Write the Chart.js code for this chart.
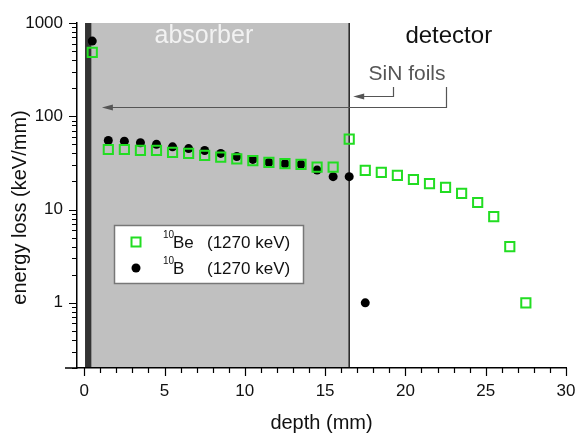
<!DOCTYPE html>
<html><head><meta charset="utf-8">
<script src="https://cdn.jsdelivr.net/npm/chart.js@4/dist/chart.umd.min.js"></script>
<style>html,body{margin:0;padding:0;background:#fff}canvas{display:block}</style>
</head><body>
<canvas id="c" width="577" height="436"></canvas>
<script>
// ---- data ----
const depthBe = [0.5,1.5,2.5,3.5,4.5,5.5,6.5,7.5,8.5,9.5,10.5,11.5,12.5,13.5,14.5,15.5,16.5,17.5,18.5,19.5,20.5,21.5,22.5,23.5,24.5,25.5,26.5,27.5];
const lossBe  = [485,44,44,43,43,41,40,38,36.5,35,33.5,32,31,30.5,28.5,28.5,57,26.3,25,23.2,21,19,17.3,14.9,11.9,8.4,4.0,1.0];
const depthB  = [0.5,1.5,2.5,3.5,4.5,5.5,6.5,7.5,8.5,9.5,10.5,11.5,12.5,13.5,14.5,15.5,16.5,17.5];
const lossB   = [640,55,54,52,50,47,45,43,40,37,34.5,32,31,30.5,26.5,22.5,22.5,1.0];
const xTickLabels = [0,5,10,15,20,25,30];
const yTickLabels = [1,10,100,1000];
const seriesMass = ['10','10'];
const seriesElement = ['Be','B'];
const seriesEnergy = ['(1270 keV)','(1270 keV)'];
const foilRange = [0.05,0.45];
const absorberRange = [0.45,16.5];
const xTitle = 'depth (mm)';
const yTitle = 'energy loss (keV/mm)';

const FONT = '"Liberation Sans", Arial, Helvetica, sans-serif';
const GREEN = '#22dd22';

function font(sz){ return sz + 'px ' + FONT; }

const deco = {
  id: 'deco',
  beforeDraw(chart){
    const {ctx, chartArea:a, scales:{x}} = chart;
    ctx.save();
    ctx.fillStyle = '#fff'; ctx.fillRect(0,0,chart.width,chart.height);
    const g0 = x.getPixelForValue(absorberRange[0]), g1 = x.getPixelForValue(absorberRange[1]);
    ctx.fillStyle = '#c0c0c0'; ctx.fillRect(g0, a.top, g1-g0, a.bottom-a.top);
    const f0 = x.getPixelForValue(foilRange[0]), f1 = x.getPixelForValue(foilRange[1]);
    ctx.fillStyle = '#333'; ctx.fillRect(f0, a.top, f1-f0, a.bottom-a.top);
    ctx.strokeStyle = '#222'; ctx.lineWidth = 1.5;
    ctx.beginPath(); ctx.moveTo(g1, a.top); ctx.lineTo(g1, a.bottom); ctx.stroke();
    ctx.restore();
  },
  afterDraw(chart){
    const {ctx, chartArea:a, scales:{x,y}} = chart;
    ctx.save();
    // tick marks
    ctx.strokeStyle = '#000'; ctx.lineWidth = 1.2;
    ctx.beginPath();
    for (let i = 0; i <= 30; i++){
      const px = Math.round(x.getPixelForValue(i)) + 0.5;
      const len = (i % 5 === 0) ? 8 : 5;
      ctx.moveTo(px, a.bottom); ctx.lineTo(px, a.bottom + len);
    }
    [0.1,1,10,100].forEach(d => {
      for (let k = 1; k <= 9; k++){
        const v = k*d;
        if (v < 0.2 || v > 1000) continue;
        const py = Math.round(y.getPixelForValue(v)) + 0.5;
        const len = (k === 1) ? 8 : 5;
        ctx.moveTo(a.left, py); ctx.lineTo(a.left - len, py);
      }
    });
    const pTop = Math.round(y.getPixelForValue(1000)) + 0.5;
    ctx.moveTo(a.left, pTop); ctx.lineTo(a.left - 8, pTop);
    ctx.stroke();
    // x axis line extends a little left of the y axis
    ctx.lineWidth = 1.5;
    ctx.beginPath(); ctx.moveTo(a.left - 12, a.bottom); ctx.lineTo(a.left, a.bottom); ctx.stroke();

    // axis titles
    ctx.fillStyle = '#111';
    ctx.font = font(20);
    ctx.textAlign = 'center'; ctx.textBaseline = 'middle';
    ctx.fillText(xTitle, (a.left + a.right)/2, a.bottom + 55);
    ctx.save();
    ctx.translate(20, (a.top + a.bottom)/2 + 12);
    ctx.rotate(-Math.PI/2);
    ctx.fillText(yTitle, 0, 0);
    ctx.restore();

    // region labels
    ctx.textBaseline = 'alphabetic';
    ctx.font = font(25); ctx.fillStyle = '#f2f2f2';
    ctx.fillText('absorber', x.getPixelForValue(7.45), y.getPixelForValue(611));
    ctx.font = font(24); ctx.fillStyle = '#111';
    ctx.fillText('detector', x.getPixelForValue(22.7), y.getPixelForValue(611));
    ctx.font = font(21); ctx.fillStyle = '#555';
    ctx.fillText('SiN foils', x.getPixelForValue(20.1), y.getPixelForValue(245));

    // arrows
    ctx.strokeStyle = '#555'; ctx.fillStyle = '#555'; ctx.lineWidth = 1.2;
    const yMain = Math.round(y.getPixelForValue(125.7)) + 0.5;
    const yUp = y.getPixelForValue(206);
    const ySmall = Math.round(y.getPixelForValue(165)) + 0.5;
    const xR = Math.round(x.getPixelForValue(22.55)) + 0.5;
    const xS = Math.round(x.getPixelForValue(19.2)) + 0.5;
    const xTipMain = x.getPixelForValue(1.1);
    const xTipSmall = x.getPixelForValue(16.75);
    ctx.beginPath();
    ctx.moveTo(xR, yUp); ctx.lineTo(xR, yMain); ctx.lineTo(xTipMain + 9, yMain);
    ctx.moveTo(xS, yUp); ctx.lineTo(xS, ySmall); ctx.lineTo(xTipSmall + 9, ySmall);
    ctx.stroke();
    function head(tx, ty){
      ctx.beginPath(); ctx.moveTo(tx, ty); ctx.lineTo(tx + 11, ty - 3); ctx.lineTo(tx + 11, ty + 3); ctx.closePath(); ctx.fill();
    }
    head(xTipMain, yMain); head(xTipSmall, ySmall);

    // legend
    const lx = a.left + 37, ly = a.top + 202, lw = 189, lh = 58;
    ctx.fillStyle = '#fff'; ctx.fillRect(lx, ly, lw, lh);
    ctx.strokeStyle = '#777'; ctx.lineWidth = 1.5; ctx.strokeRect(lx + 0.5, ly + 0.5, lw, lh);
    const rows = [ly + 17, ly + 43];
    ctx.strokeStyle = GREEN; ctx.lineWidth = 2;
    ctx.strokeRect(lx + 22 - 4.5, rows[0] - 4.5, 9, 9);
    ctx.fillStyle = '#000';
    ctx.beginPath(); ctx.arc(lx + 22, rows[1], 4.5, 0, Math.PI*2); ctx.fill();
    ctx.fillStyle = '#111'; ctx.textAlign = 'left'; ctx.textBaseline = 'alphabetic';
    for (let i = 0; i < 2; i++){
      const base = rows[i] + 6;
      ctx.font = font(10);
      ctx.fillText(seriesMass[i], lx + 49, base - 10);
      ctx.font = font(17);
      ctx.fillText(seriesElement[i], lx + 59, base);
      ctx.fillText(seriesEnergy[i], lx + 93, base);
    }
    ctx.restore();
  }
};

new Chart(document.getElementById('c'), {
  type: 'scatter',
  data: {
    datasets: [
      { label: '10Be (1270 keV)', data: depthBe.map((d,i)=>({x:d, y:lossBe[i]})),
        pointStyle: 'rect', pointRadius: 6.5, pointBorderWidth: 2,
        borderColor: GREEN, pointBorderColor: GREEN, backgroundColor: 'rgba(0,0,0,0)', pointBackgroundColor: 'rgba(0,0,0,0)' },
      { label: '10B (1270 keV)', data: depthB.map((d,i)=>({x:d, y:lossB[i]})),
        pointStyle: 'circle', pointRadius: 4.5, pointBorderWidth: 0,
        borderColor: '#000', pointBackgroundColor: '#000', backgroundColor: '#000' }
    ]
  },
  options: {
    responsive: false, animation: false,
    events: [],
    layout: { padding: { top: 23, right: 11, left: 0, bottom: 0 } },
    plugins: { legend: { display: false }, tooltip: { enabled: false }, title: { display: false } },
    scales: {
      x: {
        type: 'linear', min: -0.45, max: 30, position: 'bottom',
        afterFit(s){ s.height = 68; },
        afterBuildTicks(s){ s.ticks = xTickLabels.map(v => ({value: v})); },
        grid: { display: false, drawTicks: true, tickLength: 13 },
        border: { display: true, color: '#000', width: 1.5 },
        ticks: { font: { family: FONT, size: 17 }, color: '#111', padding: 0, autoSkip: false, maxRotation: 0,
                 callback: v => String(v) }
      },
      y: {
        type: 'logarithmic', min: 0.2, max: 1000, bounds: 'data', position: 'left',
        afterFit(s){ s.width = 77; },
        afterBuildTicks(s){ s.ticks = yTickLabels.map(v => ({value: v})); },
        grid: { display: false, drawTicks: true, tickLength: 14 },
        border: { display: true, color: '#000', width: 1.5 },
        ticks: { font: { family: FONT, size: 17 }, color: '#111', padding: 0, autoSkip: false,
                 callback: v => String(v) }
      }
    }
  },
  plugins: [deco]
});
</script>
</body></html>
